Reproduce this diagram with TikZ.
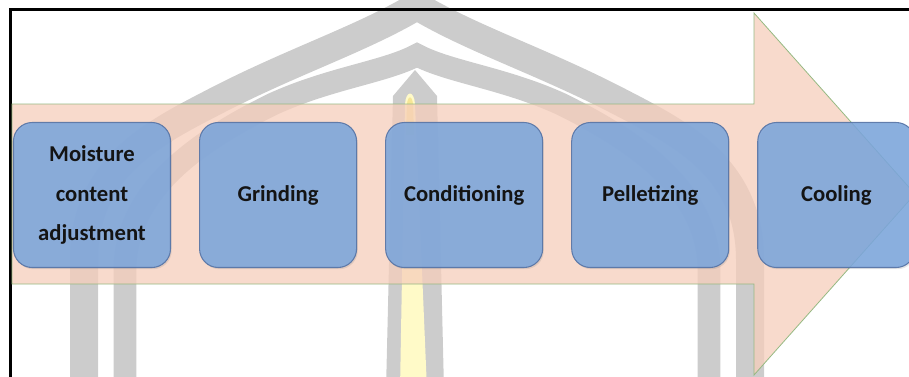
\documentclass[tikz,border=0pt]{standalone}
\usepackage{fontspec}
\setmainfont{Carlito}
\usetikzlibrary{positioning,shadows}
\definecolor{wmgray}{RGB}{204,204,204}
\definecolor{wmyellow}{RGB}{255,250,200}
\definecolor{flame}{RGB}{246,230,150}
\definecolor{arrowfill}{RGB}{246,206,187}
\definecolor{arrowline}{RGB}{150,185,130}
\definecolor{stagefill}{RGB}{122,166,222}
\definecolor{stageline}{RGB}{85,115,165}
\begin{document}
\begin{tikzpicture}[x=0.75pt, y=-0.75pt,
  stage/.style={draw=stageline, line width=0.8pt, fill=stagefill,
    fill opacity=0.85, draw opacity=0.9, text opacity=1,
    rounded corners=14pt, minimum width=117.75pt, minimum height=108.75pt,
    inner sep=2pt, align=center, text=black!92,
    font=\bfseries\fontsize{17}{29.5}\selectfont,
    drop shadow={shadow xshift=0.9pt, shadow yshift=-1.3pt, opacity=0.2}}]
  \useasboundingbox (0,0) rectangle (909,376);
  % watermark behind the arrow
  \begin{scope}
    \clip (0,0) rectangle (909,376);
    \draw[wmgray, line width=21pt, miter limit=10]
      (84,390) -- (84,260) .. controls (84,170) and (150,135) .. (210,104)
      .. controls (290,62) and (360,40) .. (417,6)
      .. controls (474,40) and (544,62) .. (624,104)
      .. controls (684,135) and (750,170) .. (750,260) -- (750,390);
    \draw[wmgray, line width=17pt, miter limit=10]
      (125,390) -- (125,270) .. controls (125,190) and (200,140) .. (273,104)
      .. controls (330,78) and (385,72) .. (417,55)
      .. controls (449,72) and (504,78) .. (561,104)
      .. controls (634,140) and (709,190) .. (709,270) -- (709,390);
    \fill[wmgray] (386,390) -- (393,96) -- (415,70) -- (437,96) -- (444,390) -- cycle;
    \fill[wmyellow] (400,390) -- (405,104) .. controls (406,90) and (414,90) .. (415,104) -- (427,390) -- cycle;
    \fill[flame] (407,104) .. controls (408,95) and (412,95) .. (413,104) -- (414,135) -- (406,135) -- cycle;
  \end{scope}
  \draw[line width=2.25pt] (10.7,390) -- (10.7,9.7) -- (920,9.7);
  \draw[arrowline, line width=0.6pt, fill=arrowfill, fill opacity=0.75]
    (12,104) -- (754,104) -- (754,13) -- (915,194) -- (754,375) -- (754,284) -- (12,284) -- cycle;
  \node[stage] (moisture) at (92,195) {Moisture\\content\\adjustment};
  \node[stage, right=21pt of moisture] (grinding) {Grinding};
  \node[stage, right=21pt of grinding] (conditioning) {Conditioning};
  \node[stage, right=21pt of conditioning] (pelletizing) {Pelletizing};
  \node[stage, right=21pt of pelletizing] (cooling) {Cooling};
\end{tikzpicture}
\end{document}
